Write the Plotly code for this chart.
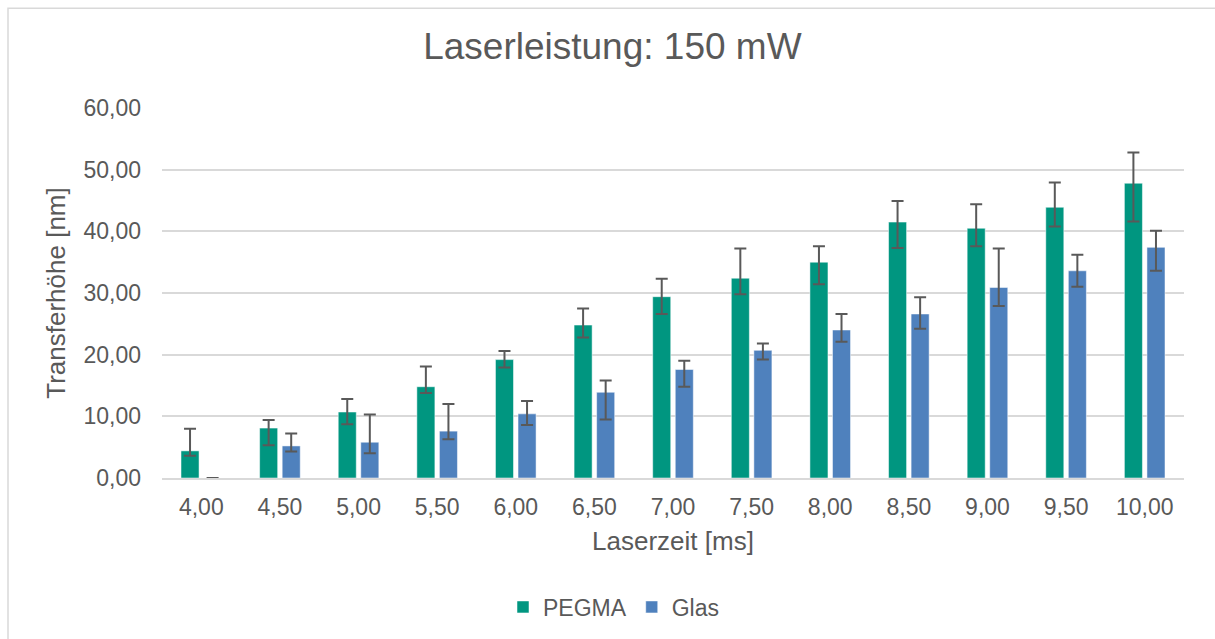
import plotly.graph_objects as go

# Laser pulse duration [ms]
categories = ["4,00", "4,50", "5,00", "5,50", "6,00", "6,50", "7,00",
              "7,50", "8,00", "8,50", "9,00", "9,50", "10,00"]

# Mean transfer height [nm] and asymmetric error bars
pegma = [4.4, 8.1, 10.7, 14.8, 19.2, 24.8, 29.4, 32.4, 35.0, 41.5, 40.5, 43.9, 47.8]
pegma_err_plus = [3.6, 1.3, 2.1, 3.3, 1.4, 2.7, 2.9, 4.8, 2.6, 3.4, 3.9, 4.0, 5.0]
pegma_err_minus = [0.8, 2.8, 2.0, 1.0, 1.3, 2.0, 2.8, 2.6, 3.6, 4.2, 2.9, 3.1, 6.2]

glas = [0.0, 5.2, 5.8, 7.6, 10.4, 13.9, 17.6, 20.7, 24.0, 26.6, 30.9, 33.6, 37.4]
glas_err_plus = [0.0, 2.0, 4.5, 4.4, 2.1, 1.9, 1.4, 1.1, 2.6, 2.7, 6.3, 2.6, 2.7]
glas_err_minus = [0.0, 0.9, 1.8, 1.3, 1.8, 4.4, 2.8, 1.5, 1.9, 2.4, 3.0, 2.6, 3.8]

y_ticks = [0, 10, 20, 30, 40, 50, 60]
y_tick_labels = ["0,00", "10,00", "20,00", "30,00", "40,00", "50,00", "60,00"]

GREEN = "rgb(0,150,128)"
BLUE = "rgb(79,129,189)"
TEXT = "#595959"
GRID = "#d9d9d9"
FONT = "Liberation Sans, Arial, sans-serif"

W, H = 1215, 639
ML, MR, MT, MB = 162, 31, 108, 160
PW, PH = W - ML - MR, H - MT - MB


def err(plus, minus):
    return dict(type="data", symmetric=False, array=plus, arrayminus=minus,
                color=TEXT, thickness=2, width=6)


fig = go.Figure()
fig.add_trace(go.Bar(
    x=categories, y=pegma, name="PEGMA",
    marker=dict(color=GREEN, line=dict(color="rgba(255,255,255,0.5)", width=1)),
    error_y=err(pegma_err_plus, pegma_err_minus),
))
fig.add_trace(go.Bar(
    x=categories, y=glas, name="Glas",
    marker=dict(color=BLUE, line=dict(color="rgba(255,255,255,0.5)", width=1)),
    error_y=err(glas_err_plus, glas_err_minus),
))

# Outer chart frame (left and top edges are visible, the rest runs off the page)
def px_x(p):
    return (p - ML) / PW


def px_y(p):
    return (H - MB - p) / PH


fig.add_shape(type="rect", xref="paper", yref="paper",
              x0=px_x(8), x1=px_x(W + 20), y0=px_y(H + 20), y1=px_y(8),
              line=dict(color=GRID, width=1.5), fillcolor="rgba(0,0,0,0)",
              layer="below")

fig.update_layout(
    width=W, height=H,
    margin=dict(l=ML, r=MR, t=MT, b=MB),
    paper_bgcolor="white", plot_bgcolor="white",
    font=dict(family=FONT, color=TEXT, size=23),
    barmode="group", bargap=0.426, bargroupgap=0.2,
    title=dict(text="Laserleistung: 150 mW", x=0.504, xref="container",
               xanchor="center", y=1 - 46 / H, yref="container",
               yanchor="middle", font=dict(size=37, color=TEXT)),
    xaxis=dict(
        showgrid=False, showline=True, linecolor=GRID, linewidth=1.5,
        ticks="", tickfont=dict(size=23), ticklabelstandoff=8,
        title=dict(text="Laserzeit [ms]", font=dict(size=26), standoff=12),
    ),
    yaxis=dict(
        range=[0, 60], tickvals=y_ticks, ticktext=y_tick_labels,
        showgrid=True, gridcolor=GRID, gridwidth=1.5, zeroline=False,
        ticks="", tickfont=dict(size=23), ticklabelstandoff=20,
        title=dict(text="Transferhöhe [nm]", font=dict(size=26), standoff=10),
    ),
    legend=dict(orientation="h", x=px_x(614), xanchor="center",
                y=px_y(607), yanchor="middle", font=dict(size=23),
                itemwidth=30, traceorder="normal"),
)

fig.write_html("out.html")
